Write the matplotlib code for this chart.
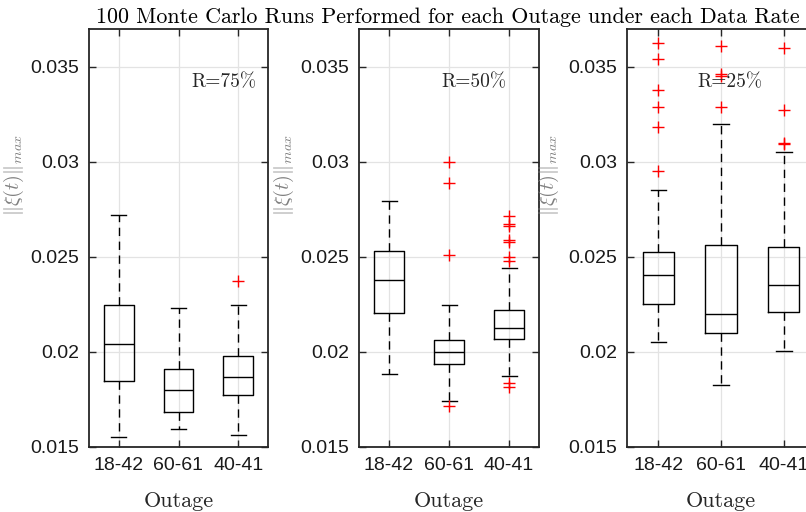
import matplotlib
matplotlib.use("Agg")
import matplotlib.pyplot as plt

plt.rcParams['mathtext.fontset'] = 'cm'

categories = ["18-42", "60-61", "40-41"]
rate_labels = ["R=75%", "R=50%", "R=25%"]

# per panel: lists over categories
med = [[0.02040, 0.01802, 0.01866],
       [0.02379, 0.02000, 0.02128],
       [0.02407, 0.02198, 0.02354]]
q1 = [[0.01847, 0.01684, 0.01772],
      [0.02203, 0.01935, 0.02067],
      [0.02253, 0.02102, 0.02212]]
q3 = [[0.02249, 0.01911, 0.01981],
      [0.02533, 0.02063, 0.02221],
      [0.02528, 0.02565, 0.02554]]
whislo = [[0.01554, 0.01595, 0.01561],
          [0.01882, 0.01744, 0.01874],
          [0.02054, 0.01825, 0.02007]]
whishi = [[0.02720, 0.02230, 0.02245],
          [0.02795, 0.02247, 0.02442],
          [0.02853, 0.03200, 0.03054]]
fliers = [[[], [], [0.02372]],
          [[], [0.03002, 0.02891, 0.02512, 0.01716],
           [0.02717, 0.02672, 0.02665, 0.02589, 0.02577, 0.02502, 0.02479, 0.01835, 0.01814]],
          [[0.03628, 0.03540, 0.03379, 0.03291, 0.03186, 0.02952],
           [0.03611, 0.03462, 0.03450, 0.03288],
           [0.03602, 0.03274, 0.03098, 0.03094]]]

yticks = [0.015, 0.02, 0.025, 0.03, 0.035]
ytick_labels = ["0.015", "0.02", "0.025", "0.03", "0.035"]
text_x = [2.76, 2.42, 2.14]
text_y = 0.0342

W, H = 806, 512
fig = plt.figure(figsize=(W / 100, H / 100), dpi=100)
lefts = [89, 359, 627]
widths = [179, 180, 188]
top_px, bot_px = 29, 447

axcol = '#262626'
for i in range(3):
    ax = fig.add_axes([lefts[i] / W, 1 - bot_px / H, widths[i] / W, (bot_px - top_px) / H])
    stats = []
    for j in range(3):
        stats.append(dict(med=med[i][j], q1=q1[i][j], q3=q3[i][j],
                          whislo=whislo[i][j], whishi=whishi[i][j],
                          fliers=fliers[i][j], label=categories[j]))
    ax.bxp(stats, positions=[1, 2, 3], widths=0.5, showfliers=True,
           boxprops=dict(color='black', linewidth=1.0),
           medianprops=dict(color='black', linewidth=1.0),
           whiskerprops=dict(color='black', linewidth=1.0, linestyle=(0, (6, 4))),
           capprops=dict(color='black', linewidth=1.0),
           flierprops=dict(marker='+', markeredgecolor='red', markersize=8,
                           markeredgewidth=1.0, linestyle='none'),
           capwidths=0.25)
    ax.set_xlim(0.5, 3.5)
    ax.set_ylim(0.015, 0.037)
    ax.set_yticks(yticks)
    ax.set_yticklabels(ytick_labels)
    ax.set_xticks([1, 2, 3])
    ax.set_xticklabels(categories)
    ax.grid(True, color='#e3e3e3', linewidth=0.9)
    ax.set_axisbelow(True)
    ax.tick_params(direction='in', top=True, right=True, length=5, width=1.0,
                   colors=axcol, labelsize=14, pad=7)
    for lab in ax.get_xticklabels() + ax.get_yticklabels():
        lab.set_fontfamily('Liberation Sans')
        lab.set_color('#1a1a1a')
    for sp in ax.spines.values():
        sp.set_color(axcol)
        sp.set_linewidth(1.3)
    ax.set_xlabel("Outage", fontfamily='cmr10', fontsize=16, color=axcol, labelpad=13)
    ax.set_ylabel(r'$\|\xi(t)\|_{max}$', fontsize=14.5, color='#808080')
    ax.yaxis.set_label_coords(-0.35, 0.65)
    ax.text(text_x[i], text_y, rate_labels[i], fontfamily='cmr10', fontsize=14,
            color=axcol, ha='center', va='center')

fig.text(448 / W, 1 - 17 / H,
         "100 Monte Carlo Runs Performed for each Outage under each Data Rate",
         fontfamily='cmr10', fontsize=15.8, color='black', ha='center', va='center')

fig.savefig("out.png", dpi=100)
